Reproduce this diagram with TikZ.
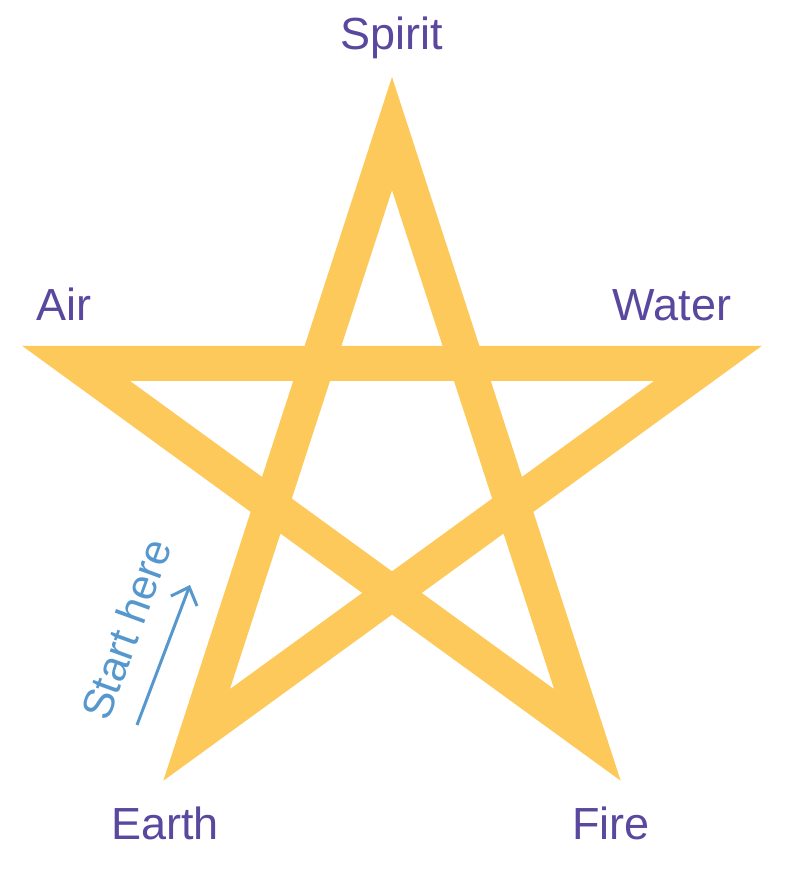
\documentclass[tikz,border=0pt]{standalone}
\usepackage{fontspec}
\setmainfont{Liberation Sans}
\usetikzlibrary{arrows.meta}
\definecolor{stargold}{RGB}{253,201,90}
\definecolor{elementpurple}{RGB}{90,72,158}
\definecolor{hintblue}{RGB}{86,152,206}
\tikzset{
  star band/.style={
    draw=stargold,
    line width=35pt,
    line join=miter
  },
  element label/.style={
    anchor=base,
    inner sep=0pt,
    text=elementpurple,
    font=\fontsize{45}{54}\selectfont
  },
  hint label/.style={
    inner sep=0pt,
    text=hintblue,
    font=\fontsize{43}{52}\selectfont
  },
  hint arrow/.style={
    draw=hintblue,
    line width=3pt,
    -{Straight Barb[length=15pt,width=28pt]}
  }
}
\begin{document}
\begin{tikzpicture}[x=1pt,y=1pt]
  \useasboundingbox (0,0) rectangle (785,877);
  \coordinate (centre) at (392,411);
  \foreach \name/\ang in {spirit/90,water/18,fire/306,earth/234,air/162}
  \path (centre) ++(\ang:332.4) coordinate (tip-\name);
  \draw[star band] (tip-spirit) -- (tip-fire) -- (tip-air) -- (tip-water) -- (tip-earth) -- cycle;
  \node[element label] (spirit) at (392,827) {Spirit};
  \node[element label] (air) at (64,556) {Air};
  \node[element label] (water) at (672,556) {Water};
  \node[element label] (earth) at (165,37) {Earth};
  \node[element label] (fire) at (611,37) {Fire};
  \node[hint label,rotate=70] (start) at (126,248) {Start here};
  \coordinate (arrow tail) at (137,152);
  \coordinate (arrow tip) at (190,292);
  \draw[hint arrow] (arrow tail) -- (arrow tip);
\end{tikzpicture}
\end{document}
